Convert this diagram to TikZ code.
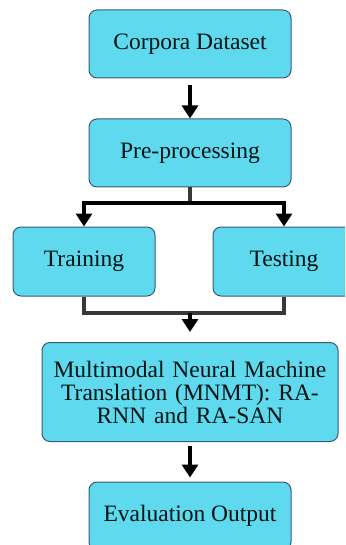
\documentclass[tikz,border=0pt]{standalone}
\usepackage{fontspec}
\setmainfont{Liberation Serif}
\usetikzlibrary{arrows.meta}
\definecolor{boxfill}{RGB}{94,217,238}
\definecolor{boxline}{RGB}{60,90,120}

\begin{document}
\begin{tikzpicture}[x=1pt,y=1pt,
    stage/.style={draw=boxline,line width=1pt,fill=boxfill,rounded corners=8pt,
      minimum width=202pt,minimum height=68pt,align=center,inner sep=2pt,
      font=\fontsize{23.5}{23}\selectfont,text=black!85!teal},
    flow/.style={line width=3.4pt,draw=black,-{Triangle[width=16pt,length=13pt]}},
    link/.style={line width=3.4pt,draw=black!78}]
    \useasboundingbox (0,0) rectangle (345,-545);
    \begin{scope}
    \clip (0,0) rectangle (345,-545);
    \node[stage] (corpora) at (190,-44) {Corpora Dataset};
    \node[stage] (prep) at (190,-153) {Pre-processing};
    \node[stage,minimum width=142pt,minimum height=69pt] (train) at (84,-261.5) {Training};
    \node[stage,minimum width=142pt,minimum height=69pt] (test) at (284,-261.5) {Testing};
    \node[stage,minimum width=296pt,minimum height=99pt,text width=286pt] (mnmt) at (190,-392)
      {Multimodal Neural Machine\\Translation (MNMT): RA-\\RNN and RA-SAN};
    \node[stage] (eval) at (190,-516) {Evaluation Output};
    \end{scope}
    % connectors
    \coordinate (split) at (190,-203);
    \coordinate (join) at (190,-313);
    \draw[flow,shorten <=7pt] (corpora) -- (prep);
    \draw[link] (prep.south) -- (split);
    \draw[flow] (split) -| (train.north);
    \draw[flow] (split) -| (test.north);
    \draw[link] (train.south) |- (join) -| (test.south);
    \draw[flow,shorten >=10pt] (join) -- (mnmt.north);
    \draw[flow,shorten <=4pt,shorten >=4pt] (mnmt) -- (eval);
\end{tikzpicture}
\end{document}
